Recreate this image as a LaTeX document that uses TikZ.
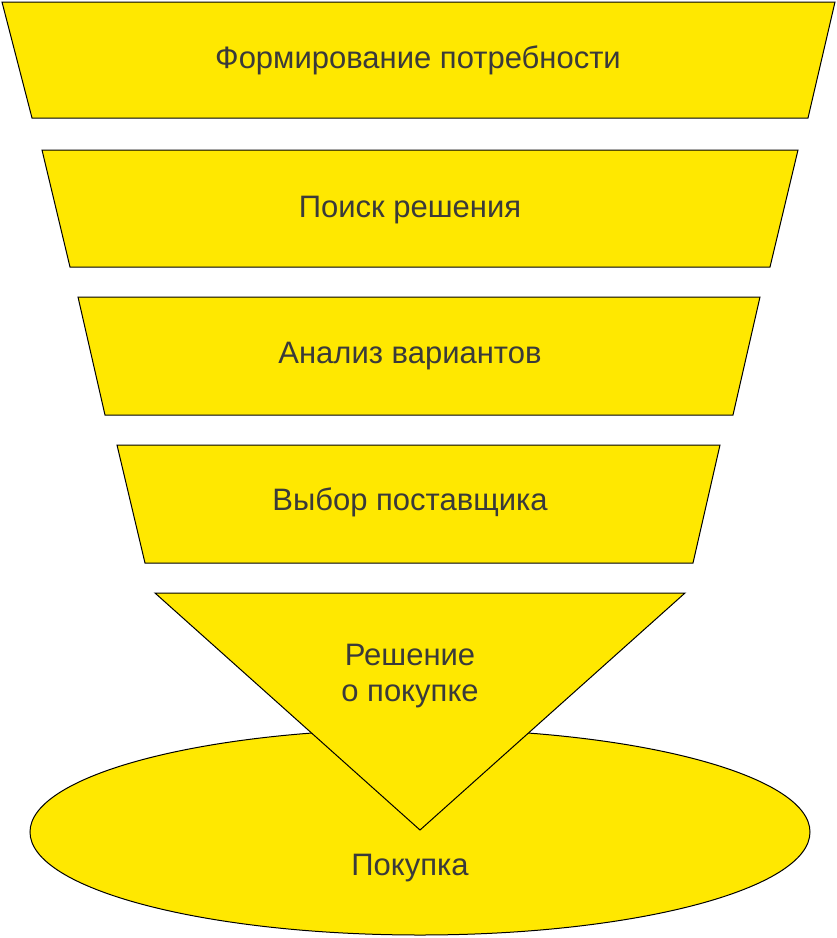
\documentclass[tikz,border=0pt]{standalone}
\usepackage{fontspec}
\setmainfont{Liberation Sans}
\usetikzlibrary{calc}
\definecolor{funnelyellow}{HTML}{FFE800}
\definecolor{funneltext}{HTML}{3A3A3A}
\tikzset{
    stage/.style={fill=funnelyellow, draw=black, line width=1pt},
    label/.style={text=funneltext, font=\fontsize{31}{36}\selectfont, align=center}
}
\begin{document}
\begin{tikzpicture}[x=1pt, y=-1pt]
    \useasboundingbox (0,0) rectangle (837,938);
    
    \draw[stage] (420,832) ellipse (390 and 103);
    \node[label] (buy) at (410,868) {Покупка};
    
    \draw[stage] (2,2) -- (835,2) -- (808,118) -- (32,118) -- cycle;
    \node[label] (need) at (418,60) {Формирование потребности};
    
    \draw[stage] (42,150) -- (798,150) -- (770,267) -- (70,267) -- cycle;
    \node[label] (search) at (410,210) {Поиск решения};
    
    \draw[stage] (78,297) -- (760,297) -- (733,415) -- (105,415) -- cycle;
    \node[label] (analysis) at (410,356) {Анализ вариантов};
    
    \draw[stage] (117,445) -- (720,445) -- (693,563) -- (145,563) -- cycle;
    \node[label] (supplier) at (410,502) {Выбор поставщика};
    
    \draw[stage] (155,593) -- (685,593) -- (420,830) -- cycle;
    \node[label] (decision) at (410,676) {Решение\\о покупке};
    
\end{tikzpicture}
\end{document}
